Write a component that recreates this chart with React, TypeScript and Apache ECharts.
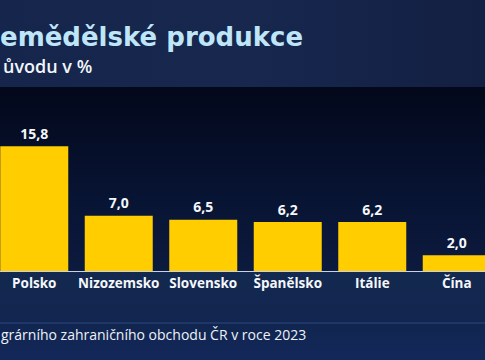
import React, { useEffect, useRef } from "react";
import * as echarts from "echarts";

const categories = ["Polsko", "Nizozemsko", "Slovensko", "Španělsko", "Itálie", "Čína"];
const shares = [15.8, 7.0, 6.5, 6.2, 6.2, 2.0];
const titleText = "emědělské produkce";
const subtitleText = "ůvodu v %";
const footerText = "grárního zahraničního obchodu ČR v roce 2023";

const FONT = "'Open Sans', 'Noto Sans', sans-serif";
const OFF = 8; // the chart canvas starts 8px left of the page

export default function App() {
  const ref = useRef<HTMLDivElement>(null);
  useEffect(() => {
    if (!ref.current) return;
    const chart = echarts.init(ref.current, null, { renderer: "svg" });
    const W = 507;
    chart.setOption({
      animation: false,
      backgroundColor: "#0b1738",
      graphic: [
        {
          type: "rect",
          z: -10,
          shape: { x: 0, y: 0, width: W, height: 87 },
          style: {
            fill: new echarts.graphic.LinearGradient(0, 0, 1, 0, [
              { offset: 0, color: "#15254c" },
              { offset: 0.5, color: "#17274e" },
              { offset: 1, color: "#131f42" },
            ]),
          },
        },
        {
          type: "rect",
          z: -10,
          shape: { x: 0, y: 87, width: W, height: 184 },
          style: {
            fill: new echarts.graphic.LinearGradient(0, 0, 0, 1, [
              { offset: 0, color: "#03081a" },
              { offset: 0.5, color: "#071230" },
              { offset: 1, color: "#0c1a3e" },
            ]),
          },
        },
        {
          type: "rect",
          z: -10,
          shape: { x: 0, y: 271, width: W, height: 89 },
          style: {
            fill: new echarts.graphic.LinearGradient(0, 0, 0, 1, [
              { offset: 0, color: "#14294f" },
              { offset: 0.6, color: "#112550" },
              { offset: 1, color: "#13285a" },
            ]),
          },
        },
        {
          type: "line",
          z: -5,
          shape: { x1: 0, y1: 323, x2: W, y2: 323 },
          style: { stroke: "#2a4a7c", lineWidth: 1 },
        },
        {
          type: "text",
          left: OFF,
          top: 24,
          style: {
            text: titleText,
            fill: "#bfe5f8",
            font: `bold 26px 'DejaVu Sans', sans-serif`,
          },
        },
        {
          type: "text",
          left: OFF + 3,
          top: 57,
          style: {
            text: subtitleText,
            fill: "#f2f6fa",
            font: `600 18px ${FONT}`,
          },
        },
        {
          type: "text",
          left: OFF + 1,
          top: 327,
          style: {
            text: footerText,
            fill: "#eef2f8",
            font: `14px ${FONT}`,
          },
        },
      ],
      grid: { left: 0, right: 0, top: 113, bottom: 89, containLabel: false },
      xAxis: {
        type: "category",
        data: categories,
        axisLine: { show: true, lineStyle: { color: "#c8d4e6", width: 1 } },
        axisTick: { show: false },
        axisLabel: {
          color: "#f4f7fb",
          fontFamily: FONT,
          fontWeight: "bold",
          fontSize: 13.5,
          margin: 5,
          interval: 0,
        },
      },
      yAxis: {
        type: "value",
        min: 0,
        max: 20,
        show: false,
        splitLine: { show: false },
      },
      series: [
        {
          type: "bar",
          data: shares,
          barWidth: 68,
          itemStyle: { color: "#ffcd00" },
          label: {
            show: true,
            position: "top",
            distance: 6,
            color: "#f4f7fb",
            fontFamily: FONT,
            fontWeight: "bold",
            fontSize: 14,
            formatter: (p: any) => Number(p.value).toFixed(1).replace(".", ","),
          },
        },
      ],
    });
    return () => chart.dispose();
  }, []);
  return (
    <div
      ref={ref}
      style={{ position: "fixed", left: -OFF, top: 0, width: 507, height: 360 }}
    />
  );
}
